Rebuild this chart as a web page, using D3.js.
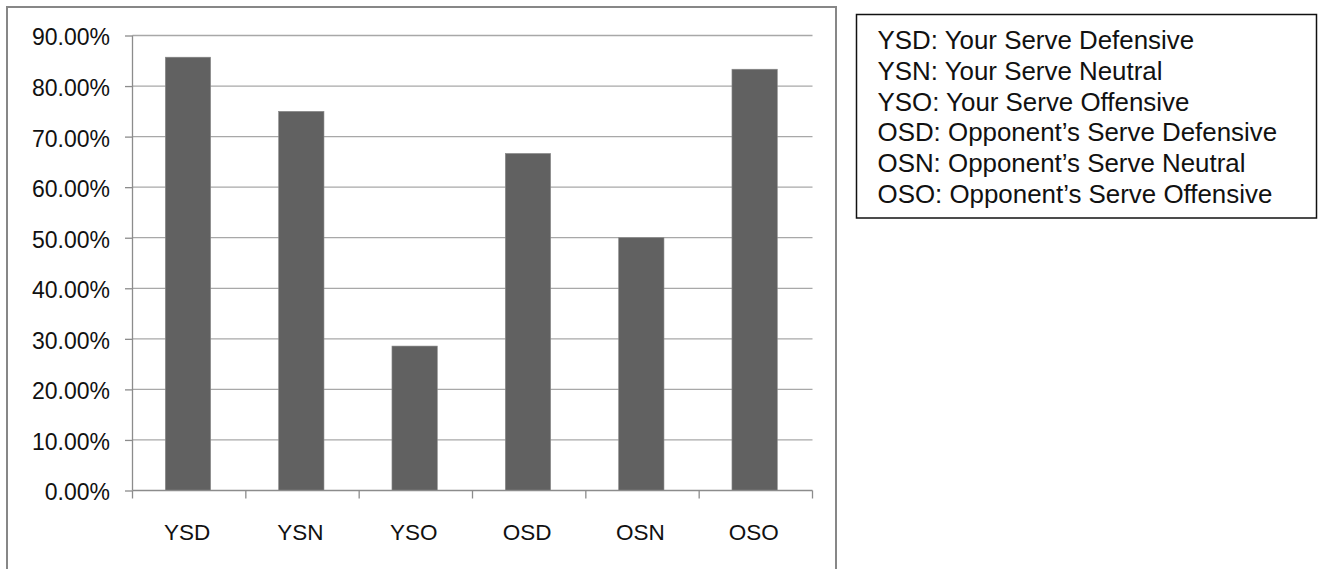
<!DOCTYPE html>
<html>
<head>
<meta charset="utf-8">
<script src="https://cdn.jsdelivr.net/npm/d3@7"></script>
<style>
  html, body { margin: 0; padding: 0; background: #fff; }
  svg { display: block; font-family: "Liberation Sans", Arial, sans-serif; }
</style>
</head>
<body>
<svg id="chart" width="1321" height="569"></svg>
<script>
// Share of points won by serve situation
const categories = ["YSD", "YSN", "YSO", "OSD", "OSN", "OSO"];
const values = [85.71, 75.00, 28.57, 66.67, 50.00, 83.33];
const yTicks = [0, 10, 20, 30, 40, 50, 60, 70, 80, 90];
const legendLines = [
  "YSD: Your Serve Defensive",
  "YSN: Your Serve Neutral",
  "YSO: Your Serve Offensive",
  "OSD: Opponent\u2019s Serve Defensive",
  "OSN: Opponent\u2019s Serve Neutral",
  "OSO: Opponent\u2019s Serve Offensive"
];

const svg = d3.select("#chart");

// chart frame
svg.append("rect")
  .attr("x", 7).attr("y", 7)
  .attr("width", 829).attr("height", 620)
  .attr("fill", "none")
  .attr("stroke", "#878787")
  .attr("stroke-width", 2);

const plot = { left: 132.5, right: 812.5, top: 35.5, bottom: 490.5 };

const x = d3.scaleBand()
  .domain(categories)
  .range([plot.left, plot.right])
  .paddingInner(0.6)
  .paddingOuter(0.3);

const y = d3.scaleLinear()
  .domain([0, 90])
  .range([plot.bottom, plot.top]);

// horizontal gridlines
svg.append("g")
  .selectAll("line")
  .data(yTicks.filter(t => t > 0))
  .join("line")
  .attr("x1", plot.left).attr("x2", plot.right)
  .attr("y1", d => y(d)).attr("y2", d => y(d))
  .attr("stroke", "#a8a8a8")
  .attr("stroke-width", 1.3);

// bars
svg.append("g")
  .selectAll("rect")
  .data(categories.map((c, i) => ({ c, v: values[i] })))
  .join("rect")
  .attr("x", d => x(d.c) - 1.2)
  .attr("y", d => y(d.v))
  .attr("width", x.bandwidth())
  .attr("height", d => y(0) - y(d.v))
  .attr("fill", "#616161")
  .attr("stroke", "#8a8a8a")
  .attr("stroke-width", 0.6);

// y axis
const yAxis = d3.axisLeft(y)
  .tickValues(yTicks)
  .tickSize(7.5)
  .tickPadding(15)
  .tickFormat(d => d.toFixed(2) + "%");

const yg = svg.append("g")
  .attr("transform", `translate(${plot.left},0)`)
  .call(yAxis);
yg.select(".domain").attr("stroke", "#8c8c8c").attr("stroke-width", 1.3)
  .attr("d", `M0,${plot.bottom}V${plot.top}`);
yg.selectAll(".tick line").attr("stroke", "#8c8c8c").attr("stroke-width", 1.3);
yg.selectAll(".tick text")
  .attr("font-size", 23)
  .attr("fill", "#111")
  .attr("font-family", "Liberation Sans, Arial, sans-serif")
  .attr("dy", "0.41em");

// x axis line
svg.append("line")
  .attr("x1", plot.left).attr("x2", plot.right)
  .attr("y1", y(0)).attr("y2", y(0))
  .attr("stroke", "#8c8c8c")
  .attr("stroke-width", 1.3);

// x tick marks at category boundaries
const boundaries = d3.range(categories.length + 1).map(i => plot.left + i * x.step());
svg.append("g")
  .selectAll("line")
  .data(boundaries)
  .join("line")
  .attr("x1", d => d).attr("x2", d => d)
  .attr("y1", y(0)).attr("y2", y(0) + 8)
  .attr("stroke", "#8c8c8c")
  .attr("stroke-width", 1.3);

// category labels
svg.append("g")
  .selectAll("text")
  .data(categories)
  .join("text")
  .attr("x", d => x(d) + x.bandwidth() / 2 - 2)
  .attr("y", 540)
  .attr("text-anchor", "middle")
  .attr("font-size", 22.5)
  .attr("fill", "#111")
  .text(d => d);

// legend box with abbreviations
svg.append("rect")
  .attr("x", 856.5).attr("y", 14.5)
  .attr("width", 460).attr("height", 203.5)
  .attr("fill", "#fff")
  .attr("stroke", "#111")
  .attr("stroke-width", 1.5);

svg.append("g")
  .selectAll("text")
  .data(legendLines)
  .join("text")
  .attr("x", 877.5)
  .attr("y", (d, i) => 49.3 + i * 30.7)
  .attr("font-size", 25.9)
  .attr("fill", "#111")
  .text(d => d);
</script>
</body>
</html>
